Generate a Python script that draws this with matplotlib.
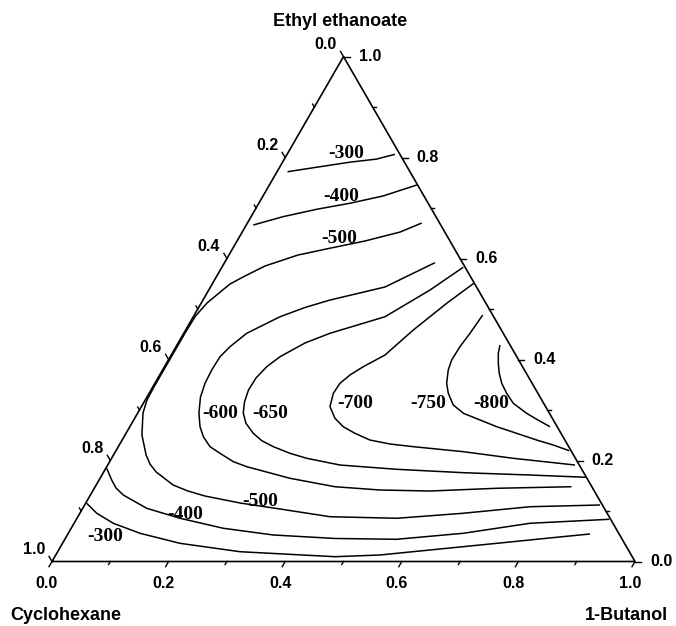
"""
Ternary contour chart: Cyclohexane / 1-Butanol / Ethyl ethanoate
"""

import numpy as np
import matplotlib
matplotlib.use('Agg')
import matplotlib.pyplot as plt

matplotlib.rcParams['font.family'] = 'Liberation Sans'

# contour lines, as (1-butanol, ethyl ethanoate) fractions
c300_top = [(0.018, 0.772), (0.064, 0.781), (0.116, 0.791), (0.158, 0.797),
            (0.185, 0.8065)]
c400_top = [(0.012, 0.6665), (0.055, 0.683), (0.105, 0.6976), (0.156, 0.7095),
            (0.206, 0.724), (0.234, 0.737), (0.253, 0.7457)]
c500 = [(0.299, 0.6704), (0.271, 0.6526), (0.2195, 0.6348), (0.168, 0.6209),
        (0.1185, 0.607), (0.0728, 0.5853), (0.0483, 0.5655), (0.0305, 0.5496),
        (0.0099, 0.512), (0.003, 0.486), (0.002, 0.4545), (0.002, 0.3456),
        (0.003, 0.32), (0.009, 0.2941), (0.029, 0.2505), (0.056, 0.2109),
        (0.0715, 0.1931), (0.090, 0.1773), (0.132, 0.1515), (0.1635, 0.1396),
        (0.1975, 0.1297), (0.2645, 0.1159), (0.339, 0.104), (0.4325, 0.0887),
        (0.549, 0.0856), (0.657, 0.0955), (0.766, 0.1085), (0.884, 0.1119)]
c600 = [(0.361, 0.5918), (0.334, 0.5708), (0.2994, 0.5437), (0.218, 0.5179),
        (0.1825, 0.5031), (0.1487, 0.4848), (0.108, 0.452), (0.0926, 0.4254),
        (0.0854, 0.4056), (0.0843, 0.3793), (0.086, 0.3529), (0.0918, 0.3258),
        (0.105, 0.2941), (0.1204, 0.267), (0.136, 0.2472), (0.1573, 0.2274),
        (0.181, 0.2143), (0.2122, 0.1977), (0.240, 0.1878), (0.3258, 0.1648),
        (0.4113, 0.1481), (0.4918, 0.1416), (0.5786, 0.1396), (0.690, 0.145),
        (0.817, 0.1481)]
c650 = [(0.414, 0.5827), (0.3795, 0.5377), (0.3288, 0.4848), (0.2508, 0.452),
        (0.2176, 0.4328), (0.1883, 0.4056), (0.1754, 0.3858), (0.1682, 0.3634),
        (0.1672, 0.3397), (0.1722, 0.3159), (0.181, 0.2941), (0.1959, 0.2737),
        (0.2183, 0.2539), (0.2401, 0.2393), (0.266, 0.2274), (0.301, 0.2143),
        (0.3347, 0.2044), (0.3984, 0.1911), (0.500, 0.1826), (0.6175, 0.1759),
        (0.734, 0.1713), (0.833, 0.1668)]
c700 = [(0.448, 0.551), (0.4213, 0.5114), (0.3905, 0.4585), (0.3667, 0.409),
        (0.341, 0.3858), (0.3264, 0.3694), (0.3175, 0.3529), (0.316, 0.3331),
        (0.3235, 0.3066), (0.3436, 0.2836), (0.366, 0.267), (0.3927, 0.2539),
        (0.425, 0.2406), (0.4634, 0.2327), (0.506, 0.2274), (0.5968, 0.2175),
        (0.689, 0.2044), (0.8015, 0.1911)]
c750 = [(0.4947, 0.4882), (0.491, 0.452), (0.487, 0.4254), (0.486, 0.3991),
        (0.490, 0.3793), (0.5005, 0.3529), (0.5132, 0.3331), (0.5333, 0.31),
        (0.559, 0.2935), (0.594, 0.2803), (0.6293, 0.267), (0.670, 0.2539),
        (0.711, 0.2406), (0.7445, 0.2307), (0.7776, 0.2194)]
c800 = [(0.554, 0.4288), (0.5593, 0.4124), (0.5692, 0.3926), (0.5808, 0.3727),
        (0.595, 0.3529), (0.6133, 0.3331), (0.6346, 0.3133), (0.6674, 0.2935),
        (0.6906, 0.2816), (0.7207, 0.267)]
c400_bottom = [(0.0015, 0.1846), (0.0217, 0.1614), (0.037, 0.1456),
               (0.0564, 0.1317), (0.1097, 0.1054), (0.1768, 0.0856),
               (0.261, 0.0658), (0.3534, 0.0525), (0.4626, 0.0456),
               (0.5692, 0.044), (0.6776, 0.0559), (0.782, 0.0757),
               (0.914, 0.0836)]
c300_bottom = [(0.0019, 0.1153), (0.029, 0.0955), (0.0673, 0.0757),
               (0.123, 0.0559), (0.2016, 0.036), (0.3128, 0.0194),
               (0.4806, 0.0095), (0.556, 0.0129), (0.637, 0.0228),
               (0.7448, 0.036), (0.8255, 0.046), (0.8956, 0.0545)]

contours = [c300_top, c400_top, c500, c600, c650, c700, c750, c800,
            c400_bottom, c300_bottom]

# contour label text and where it sits (butanol, ethyl ethanoate)
label_text = ['-300', '-400', '-500', '-600', '-650', '-700', '-750', '-800',
              '-500', '-400', '-300']
label_pos = [(0.101, 0.8085), (0.134, 0.7225), (0.173, 0.6401),
             (0.1414, 0.2935), (0.227, 0.2935), (0.3637, 0.312),
             (0.4895, 0.312), (0.598, 0.312), (0.2976, 0.1184),
             (0.182, 0.0921), (0.0663, 0.0491)]

tick_values = np.round(np.arange(0, 1.01, 0.1), 1)


def to_xy(b, e):
    """butanol / ethyl ethanoate fractions to plane coordinates"""
    b = np.asarray(b, dtype=float)
    e = np.asarray(e, dtype=float)
    return b + e / 2, e * np.sqrt(3) / 2


def main():
    """
    Draw the ternary diagram
    """
    fig = plt.figure(figsize=(6.76, 6.26), dpi=100)
    ax = fig.add_axes([0, 0, 1, 1])
    scale = 583.
    ax.set_xlim(-52 / scale, (676 - 52) / scale)
    ax.set_ylim(-(626 - 561.5) / scale, 561.5 / scale)
    ax.axis('off')

    # frame
    tx, ty = to_xy([0, 1, 0, 0], [0, 0, 1, 0])
    ax.plot(tx, ty, color='black', lw=1.2, solid_joinstyle='miter')

    # ticks, in pixel lengths turned into data units
    s3 = np.sqrt(3) / 2
    tick_font = {'fontsize': 11.5, 'fontweight': 'bold'}
    for v in tick_values:
        major = int(round(v * 10)) % 2 == 0
        length = (6. if major else 3.5) / scale
        # bottom axis: 1-butanol
        x0, y0 = to_xy(v, 0)
        ax.plot([x0, x0 - 0.5 * length], [y0, y0 - s3 * length],
                color='black', lw=1)
        # right axis: ethyl ethanoate
        x1, y1 = to_xy(1 - v, v)
        ax.plot([x1, x1 + length], [y1, y1], color='black', lw=1)
        # left axis: cyclohexane
        x2, y2 = to_xy(0, 1 - v)
        ax.plot([x2, x2 - 0.5 * length], [y2, y2 + s3 * length],
                color='black', lw=1)
        if major:
            txt = f'{v:.1f}'
            ax.annotate(txt, (x0, y0), xytext=(-5, -22),
                        textcoords='offset pixels', ha='center',
                        va='center', **tick_font)
            ax.annotate(txt, (x1, y1), xytext=(15, 0),
                        textcoords='offset pixels', ha='left',
                        va='center', **tick_font)
            ax.annotate(txt, (x2, y2), xytext=(-18, 12.5),
                        textcoords='offset pixels', ha='center',
                        va='center', **tick_font)

    # contour lines
    for line in contours:
        pts = np.array(line)
        x, y = to_xy(pts[:, 0], pts[:, 1])
        ax.plot(x, y, color='black', lw=1.1, solid_joinstyle='round',
                solid_capstyle='butt')

    for txt, (b, e) in zip(label_text, label_pos):
        x, y = to_xy(b, e)
        ax.text(x, y, txt, ha='center', va='center', fontsize=14,
                family='Liberation Serif', fontweight='bold')

    # component names
    title_font = {'fontsize': 13, 'fontweight': 'bold'}
    ax.annotate('Ethyl ethanoate', to_xy(0, 1), xytext=(-3, 35.5),
                textcoords='offset pixels', ha='center', va='center',
                **title_font)
    ax.annotate('Cyclohexane', to_xy(0, 0), xytext=(-42, -53.5),
                textcoords='offset pixels', ha='left', va='center',
                **title_font)
    ax.annotate('1-Butanol', to_xy(1, 0), xytext=(33, -53.5),
                textcoords='offset pixels', ha='right', va='center',
                **title_font)

    fig.savefig('out.png', dpi=100)


if __name__ == "__main__":
    main()
